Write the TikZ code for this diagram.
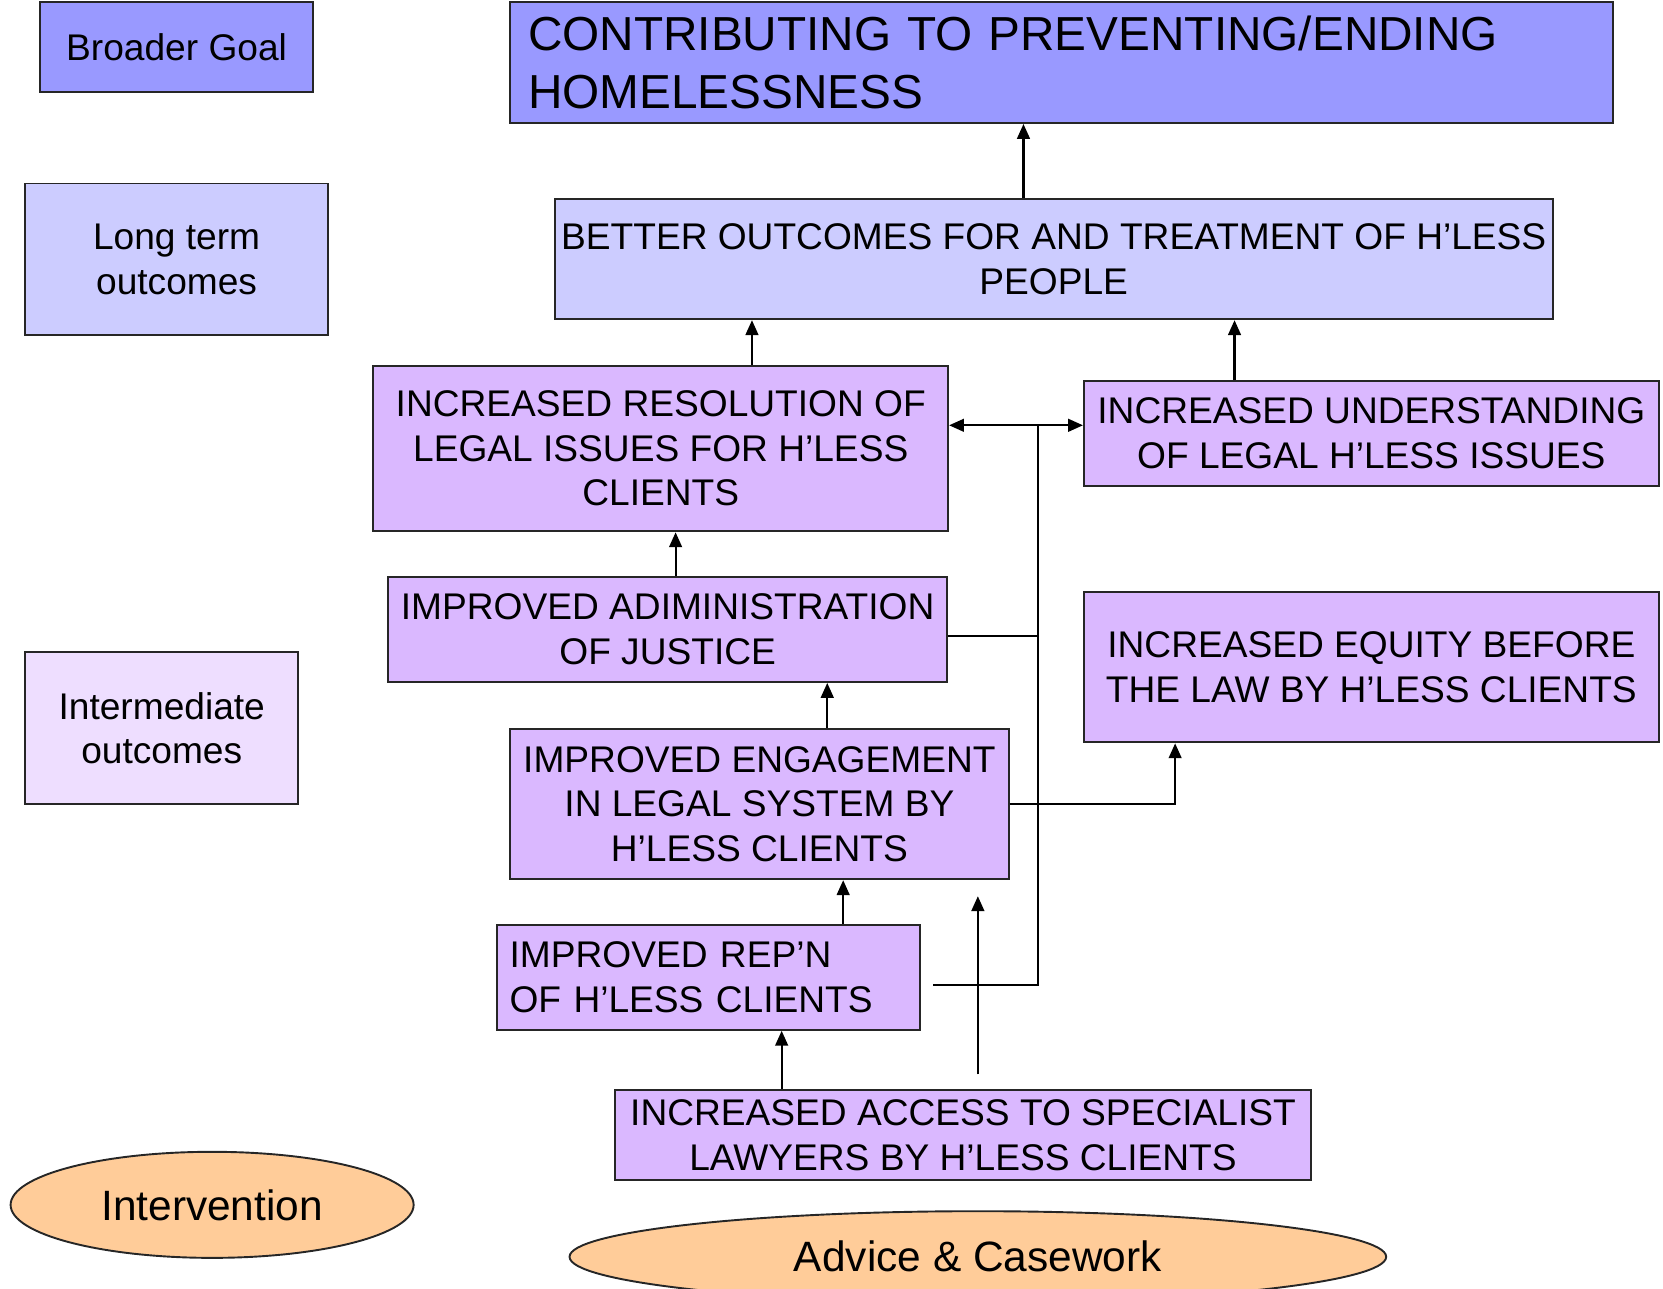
\documentclass[tikz,border=0pt]{standalone}
\usepackage{fontspec}
\setmainfont{Liberation Sans}
\usetikzlibrary{arrows.meta,shapes.geometric}

\definecolor{goalblue}{HTML}{9999FF}
\definecolor{longblue}{HTML}{CCCCFF}
\definecolor{outpurple}{HTML}{DAB8FF}
\definecolor{midpurple}{HTML}{EEDEFF}
\definecolor{actorange}{HTML}{FFCC99}

\begin{document}
\begin{tikzpicture}[
  x=1pt, y=-1pt,
  box/.style={draw=black!85, line width=1.8pt, inner sep=0pt, align=center, font=\fontsize{35}{42}\selectfont},
  outbox/.style={box, fill=outpurple},
  oval/.style={ellipse, draw=black!85, line width=1.8pt, fill=actorange, inner sep=0pt, font=\fontsize{40}{48}\selectfont},
  arrow/.style={-{Triangle[length=14pt,width=12pt]}, line width=2pt},
  twoway/.style={{Triangle[length=14pt,width=12pt]}-{Triangle[length=14pt,width=12pt]}, line width=2pt},
  link/.style={line width=2pt}
]
\clip (0,0) rectangle (1568,1215);
\useasboundingbox (0,0) rectangle (1568,1215);

% legend on the left
\node[box, fill=goalblue, minimum width=257pt, minimum height=85pt] (lgoal) at (166.5,44.5) {Broader Goal};
\node[box, fill=longblue, minimum width=285pt, minimum height=143pt] (llong) at (166.5,244.5) {Long term\\outcomes};
\node[box, fill=midpurple, minimum width=257pt, minimum height=143pt] (lmid) at (152.5,686.5) {Intermediate\\outcomes};
\node[oval, minimum width=380pt, minimum height=100pt] (lact) at (200,1136) {Intervention};

% outcome chain
\node[box, fill=goalblue, minimum width=1040pt, minimum height=114pt, text width=1006pt, align=left, font=\fontsize{45}{55}\selectfont] (goal) at (1001,59) {CONTRIBUTING TO PREVENTING/ENDING\\HOMELESSNESS};
\node[box, fill=longblue, minimum width=941pt, minimum height=113pt] (better) at (993.5,244.5) {BETTER OUTCOMES FOR AND TREATMENT OF H’LESS\\PEOPLE};
\node[outbox, minimum width=542pt, minimum height=156pt] (resolution) at (623,423) {INCREASED RESOLUTION OF\\LEGAL ISSUES FOR H’LESS\\CLIENTS};
\node[outbox, minimum width=542pt, minimum height=99pt] (understanding) at (1293,408.5) {INCREASED UNDERSTANDING\\OF LEGAL H’LESS ISSUES};
\node[outbox, minimum width=527pt, minimum height=99pt] (admin) at (629.5,593.5) {IMPROVED ADIMINISTRATION\\OF JUSTICE};
\node[outbox, minimum width=542pt, minimum height=142pt] (equity) at (1293,629) {INCREASED EQUITY BEFORE\\THE LAW BY H’LESS CLIENTS};
\node[outbox, minimum width=470pt, minimum height=142pt] (engagement) at (716,758) {IMPROVED ENGAGEMENT\\IN LEGAL SYSTEM BY\\H’LESS CLIENTS};
\node[outbox, minimum width=399pt, minimum height=99pt, text width=375pt, align=left] (repn) at (668,921.5) {IMPROVED REP’N\\OF H’LESS CLIENTS};
\node[outbox, minimum width=656pt, minimum height=85pt] (access) at (908,1070.5) {INCREASED ACCESS TO SPECIALIST\\LAWYERS BY H’LESS CLIENTS};
\node[oval, minimum width=770pt, minimum height=86pt] (advice) at (922,1185) {Advice \& Casework};

% loose ends
\coordinate (lift-lo) at (922,1013);
\coordinate (lift-hi) at (922,845);
\coordinate (rep-end) at (880,929);
\coordinate (bus) at (979,401);

\draw[arrow] ([xshift=-28.5pt]better.north) coordinate (a1) -- (a1 |- goal.south);
\draw[arrow] ([xshift=86pt]resolution.north) coordinate (a2) -- (a2 |- better.south);
\draw[arrow] ([xshift=-129pt]understanding.north) coordinate (a3) -- (a3 |- better.south);
\draw[arrow] ([xshift=7.5pt]admin.north) coordinate (a4) -- (a4 |- resolution.south);
\draw[arrow] ([xshift=64pt]engagement.north) coordinate (a5) -- (a5 |- admin.south);
\draw[arrow] ([xshift=127pt]repn.north) coordinate (a6) -- (a6 |- engagement.south);
\draw[arrow] ([xshift=-171pt]access.north) coordinate (a7) -- (a7 |- repn.south);
\draw[arrow] (lift-lo) -- (lift-hi);
\draw[twoway] (bus -| resolution.east) -- (bus -| understanding.west);
\draw[link] (rep-end) -| (bus);
\draw[link] ([yshift=-6.5pt]admin.east) coordinate (a8) -- (a8 -| bus);
\draw[arrow] (engagement.east) -| ([xshift=-185pt]equity.south);
\end{tikzpicture}
\end{document}
